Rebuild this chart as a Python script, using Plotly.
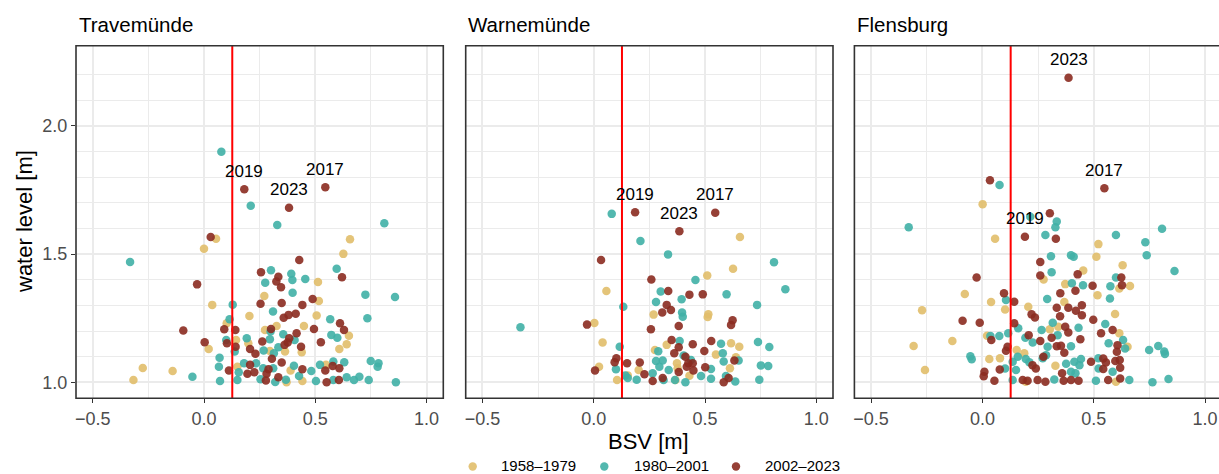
import plotly.graph_objects as go

# ---------------------------------------------------------------- data
STATIONS = ["Travemünde", "Warnemünde", "Flensburg"]
PERIODS = ["1958–1979", "1980–2001", "2002–2023"]
COLORS = ["#E1BE6A", "#40B0A6", "#8B2B20"]
BSV_THRESHOLD = 0.127

X_TICKS = [-0.5, 0.0, 0.5, 1.0]
X_TICK_TEXT = ["\u22120.5", "0.0", "0.5", "1.0"]
Y_TICKS = [1.0, 1.5, 2.0]
Y_TICK_TEXT = ["1.0", "1.5", "2.0"]

# Travemünde
TRAVE_1958_BSV = [0.054, 0.000, 0.656, 0.626, 0.037, 0.512, 0.271, 0.516, 0.204, 0.506,
                  0.102, 0.326, 0.449, 0.274, 0.651, 0.641, 0.608, 0.021, 0.144, 0.199,
                  0.364, 0.439, 0.296, -0.275, -0.141, -0.317, 0.371, 0.442, 0.389, 0.150,
                  0.548]
TRAVE_1958_WL = [1.560, 1.521, 1.558, 1.501, 1.302, 1.391, 1.337, 1.317, 1.259, 1.261,
                 1.230, 1.220, 1.220, 1.204, 1.182, 1.148, 1.130, 1.130, 1.165, 1.152,
                 1.120, 1.117, 1.122, 1.056, 1.044, 1.009, 1.000, 1.005, 1.046, 1.061,
                 1.068]
TRAVE_1980_BSV = [0.078, 0.210, 0.329, 0.810, -0.332, 0.596, 0.301, 0.392, 0.397, 0.455,
                  0.275, 0.398, 0.725, 0.858, 0.129, 0.310, 0.115, 0.567, 0.734, 0.299,
                  0.356, 0.572, 0.599, 0.100, 0.192, 0.296, 0.407, 0.334, 0.138, 0.268,
                  0.314, 0.070, 0.067, 0.180, 0.234, 0.266, 0.311, 0.404, 0.521, 0.581,
                  0.630, 0.749, 0.784, 0.780, -0.052, 0.072, 0.150, 0.254, 0.320, 0.427,
                  0.482, 0.503, 0.581, 0.641, 0.674, 0.698, 0.740, 0.862, 0.156, 0.368]
TRAVE_1980_WL = [1.899, 1.689, 1.614, 1.620, 1.469, 1.443, 1.437, 1.423, 1.399, 1.403,
                 1.388, 1.349, 1.342, 1.333, 1.303, 1.276, 1.246, 1.246, 1.250, 1.198,
                 1.187, 1.185, 1.174, 1.165, 1.172, 1.168, 1.165, 1.137, 1.120, 1.124,
                 1.113, 1.096, 1.061, 1.074, 1.074, 1.055, 1.055, 1.065, 1.068, 1.081,
                 1.078, 1.083, 1.074, 1.061, 1.022, 1.005, 1.009, 1.012, 1.001, 1.025,
                 1.044, 1.005, 1.009, 1.020, 1.009, 1.022, 1.009, 1.000, 1.039, 1.010]
TRAVE_2002_BSV = [0.030, 0.428, 0.256, 0.334, 0.325, 0.346, -0.031, 0.620, 0.488, 0.254,
                  0.349, 0.442, 0.358, 0.380, 0.412, -0.093, 0.091, 0.141, 0.301, 0.494,
                  0.611, 0.629, 0.416, 0.003, 0.103, 0.142, 0.207, 0.262, 0.383, 0.376,
                  0.362, 0.525, 0.436, 0.231, 0.305, 0.349, 0.112, 0.207, 0.195, 0.226,
                  0.290, 0.281, 0.278, 0.334, 0.442, 0.545, 0.578, 0.608, 0.551, 0.606]
TRAVE_2002_WL = [1.567, 1.477, 1.429, 1.412, 1.393, 1.371, 1.382, 1.410, 1.325, 1.306,
                 1.309, 1.302, 1.252, 1.263, 1.267, 1.202, 1.207, 1.204, 1.208, 1.208,
                 1.230, 1.204, 1.191, 1.156, 1.152, 1.139, 1.130, 1.159, 1.172, 1.155,
                 1.146, 1.156, 1.139, 1.111, 1.092, 1.077, 1.046, 1.068, 1.033, 1.039,
                 1.051, 1.033, 1.007, 1.020, 1.051, 1.046, 1.064, 1.055, 1.000, 1.009]
TRAVE_EVENT_YEAR = ["2019", "2023", "2017"]
TRAVE_EVENT_BSV = [0.181, 0.382, 0.545]
TRAVE_EVENT_WL = [1.753, 1.681, 1.761]

# Warnemünde
WARNE_1958_BSV = [0.657, 0.626, 0.510, 0.057, 0.003, 0.269, 0.515, 0.512, 0.040, 0.275,
                  0.328, 0.617, 0.654, 0.549, 0.639, 0.612, 0.024, 0.105, 0.202, 0.367,
                  0.374, 0.430, 0.153, 0.377]
WARNE_1958_WL = [1.567, 1.443, 1.417, 1.356, 1.231, 1.264, 1.265, 1.255, 1.155, 1.126,
                 1.146, 1.152, 1.139, 1.108, 1.098, 1.055, 1.061, 1.009, 1.048, 1.009,
                 1.074, 1.026, 1.027, 1.055]
WARNE_1980_BSV = [0.081, 0.210, 0.334, 0.810, 0.457, 0.861, 0.301, 0.395, 0.597, 0.280,
                  0.133, 0.734, 0.397, 0.400, -0.329, 0.117, 0.386, 0.290, 0.572, 0.738,
                  0.789, 0.580, 0.584, 0.651, 0.280, 0.310, 0.404, 0.295, 0.337, 0.751,
                  0.784, 0.100, 0.142, 0.153, 0.193, 0.365, 0.412, 0.482, 0.527, 0.527,
                  0.594, 0.636, 0.744, 0.314, 0.265, 0.437]
WARNE_1980_WL = [1.657, 1.551, 1.499, 1.468, 1.399, 1.363, 1.354, 1.324, 1.343, 1.313,
                 1.295, 1.302, 1.272, 1.256, 1.215, 1.139, 1.161, 1.121, 1.150, 1.157,
                 1.138, 1.113, 1.081, 1.085, 1.083, 1.085, 1.105, 1.061, 1.048, 1.066,
                 1.064, 1.051, 1.027, 1.017, 1.010, 1.009, 1.000, 1.025, 1.014, 1.052,
                 1.025, 1.003, 1.010, 1.009, 1.035, 1.087]
WARNE_2002_BSV = [0.033, 0.259, 0.335, 0.430, 0.490, 0.328, 0.347, 0.308, -0.030, 0.257,
                  0.382, 0.624, 0.617, 0.350, 0.382, 0.362, 0.445, 0.528, 0.497, 0.632,
                  0.102, 0.094, 0.150, 0.207, 0.412, 0.425, 0.445, 0.418, 0.448, 0.501,
                  0.382, 0.006, 0.228, 0.265, 0.310, 0.606, 0.584]
WARNE_2002_WL = [1.477, 1.401, 1.356, 1.342, 1.343, 1.302, 1.282, 1.272, 1.225, 1.207,
                 1.220, 1.242, 1.224, 1.165, 1.137, 1.113, 1.148, 1.161, 1.122, 1.085,
                 1.094, 1.078, 1.074, 1.077, 1.100, 1.074, 1.074, 1.061, 1.046, 1.059,
                 1.040, 1.046, 1.031, 1.005, 1.017, 1.017, 1.000]
WARNE_EVENT_YEAR = ["2019", "2023", "2017"]
WARNE_EVENT_BSV = [0.186, 0.385, 0.546]
WARNE_EVENT_WL = [1.663, 1.589, 1.661]

# Flensburg
FLENS_1958_BSV = [0.001, 0.057, 0.521, 0.512, 0.453, 0.630, 0.275, 0.372, 0.663, 0.615,
                  -0.079, 0.039, 0.517, 0.368, 0.102, -0.271, 0.206, 0.596, -0.135, -0.309,
                  -0.258, 0.021, 0.031, 0.079, 0.154, 0.188, 0.303, 0.341, 0.615, 0.652,
                  0.328, 0.195, 0.600]
FLENS_1958_WL = [1.695, 1.560, 1.539, 1.490, 1.436, 1.457, 1.401, 1.383, 1.376, 1.366,
                 1.344, 1.313, 1.340, 1.313, 1.284, 1.281, 1.295, 1.266, 1.161, 1.142,
                 1.048, 1.182, 1.091, 1.094, 1.126, 1.113, 1.207, 1.217, 1.191, 1.139,
                 1.065, 1.002, 1.002]
FLENS_1980_BSV = [0.077, 0.215, 0.334, 0.328, -0.331, 0.283, 0.600, 0.807, 0.732, 0.738,
                  0.308, 0.398, 0.410, 0.863, 0.311, 0.600, 0.402, 0.452, 0.575, 0.573,
                  0.291, 0.106, 0.552, 0.432, 0.316, 0.116, 0.076, 0.036, 0.161, 0.193,
                  0.226, 0.266, 0.293, 0.338, 0.398, 0.567, 0.632, 0.641, 0.749, 0.790,
                  0.817, 0.820, -0.054, -0.048, 0.159, 0.195, 0.211, 0.136, 0.102, 0.151,
                  0.271, 0.286, 0.413, 0.436, 0.443, 0.521, 0.522, 0.585, 0.376, 0.398,
                  0.418, 0.323, 0.510, 0.660, 0.764, 0.836, 0.136]
FLENS_1980_WL = [1.770, 1.646, 1.627, 1.605, 1.605, 1.575, 1.575, 1.599, 1.546, 1.496,
                 1.492, 1.496, 1.490, 1.434, 1.429, 1.409, 1.386, 1.379, 1.375, 1.327,
                 1.325, 1.321, 1.227, 1.213, 1.232, 1.191, 1.181, 1.181, 1.211, 1.174,
                 1.155, 1.204, 1.139, 1.184, 1.141, 1.152, 1.165, 1.132, 1.126, 1.142,
                 1.120, 1.110, 1.102, 1.090, 1.100, 1.091, 1.078, 1.080, 1.054, 1.048,
                 1.094, 1.106, 1.080, 1.067, 1.091, 1.094, 1.054, 1.041, 1.072, 1.041,
                 1.035, 1.011, 1.006, 1.009, 1.000, 1.013, 1.009]
FLENS_2002_BSV = [0.034, 0.303, 0.330, 0.260, 0.260, 0.428, -0.026, 0.495, 0.418, 0.350,
                  0.624, 0.627, 0.097, 0.143, 0.447, 0.420, 0.334, 0.386, 0.447, 0.349,
                  0.221, 0.236, -0.089, -0.012, 0.498, 0.143, 0.372, 0.386, 0.208, 0.260,
                  0.311, 0.440, 0.533, 0.585, 0.040, 0.113, 0.106, 0.334, 0.353, 0.368,
                  0.274, 0.607, 0.604, 0.488, 0.543, 0.555, 0.597, 0.617, 0.543, 0.619,
                  0.225, 0.240, 0.078, 0.009, 0.006, 0.054, 0.181, 0.203, 0.248, 0.283,
                  0.358, 0.365, 0.398, 0.432, 0.565, 0.619]
FLENS_2002_WL = [1.788, 1.659, 1.560, 1.469, 1.417, 1.421, 1.409, 1.377, 1.357, 1.347,
                 1.409, 1.379, 1.347, 1.314, 1.301, 1.279, 1.291, 1.291, 1.262, 1.258,
                 1.265, 1.253, 1.240, 1.232, 1.244, 1.230, 1.217, 1.194, 1.184, 1.161,
                 1.174, 1.168, 1.191, 1.204, 1.165, 1.139, 1.123, 1.141, 1.143, 1.115,
                 1.100, 1.145, 1.119, 1.080, 1.093, 1.077, 1.083, 1.087, 1.052, 1.057,
                 1.067, 1.054, 1.050, 1.041, 1.024, 1.006, 1.009, 1.006, 1.009, 1.002,
                 1.035, 1.006, 1.009, 1.006, 1.009, 1.015]
FLENS_EVENT_YEAR = ["2019", "2023", "2017"]
FLENS_EVENT_BSV = [0.191, 0.387, 0.548]
FLENS_EVENT_WL = [1.568, 2.188, 1.757]

PANELS = [
    ([TRAVE_1958_BSV, TRAVE_1980_BSV, TRAVE_2002_BSV + TRAVE_EVENT_BSV],
     [TRAVE_1958_WL, TRAVE_1980_WL, TRAVE_2002_WL + TRAVE_EVENT_WL],
     TRAVE_EVENT_YEAR, TRAVE_EVENT_BSV, TRAVE_EVENT_WL),
    ([WARNE_1958_BSV, WARNE_1980_BSV, WARNE_2002_BSV + WARNE_EVENT_BSV],
     [WARNE_1958_WL, WARNE_1980_WL, WARNE_2002_WL + WARNE_EVENT_WL],
     WARNE_EVENT_YEAR, WARNE_EVENT_BSV, WARNE_EVENT_WL),
    ([FLENS_1958_BSV, FLENS_1980_BSV, FLENS_2002_BSV + FLENS_EVENT_BSV],
     [FLENS_1958_WL, FLENS_1980_WL, FLENS_2002_WL + FLENS_EVENT_WL],
     FLENS_EVENT_YEAR, FLENS_EVENT_BSV, FLENS_EVENT_WL),
]

# ---------------------------------------------------------------- layout geometry (px)
W, H = 1219, 474
PANEL_LEFT = [76.0, 465.7, 854.4]
PANEL_W = 367.3
PANEL_TOP, PANEL_BOTTOM = 45.7, 398.3
X_RANGE = [-0.575, 1.075]
Y_RANGE = [0.9376, 2.313]
FONT = "Liberation Sans, Arial, Helvetica, sans-serif"
GRID = "#EBEBEB"
TEXT_GREY = "#4D4D4D"

fig = go.Figure()

for p, (xs, ys, years, ev_x, ev_y) in enumerate(PANELS):
    suffix = "" if p == 0 else str(p + 1)
    for k in range(3):
        fig.add_trace(go.Scatter(
            x=xs[k], y=ys[k], mode="markers", name=PERIODS[k],
            xaxis="x" + suffix, yaxis="y" + suffix, showlegend=False,
            marker=dict(color=COLORS[k], size=8.5, opacity=0.9, line=dict(width=0)),
            cliponaxis=False,
        ))
    for yr, ex, ey in zip(years, ev_x, ev_y):
        fig.add_annotation(x=ex, y=ey, xref="x" + suffix, yref="y" + suffix,
                           text=yr, showarrow=False, yshift=18,
                           font=dict(family=FONT, size=17, color="black"))

layout = dict(
    width=W, height=H, margin=dict(l=0, r=0, t=0, b=0),
    paper_bgcolor="white", plot_bgcolor="white", showlegend=False,
    font=dict(family=FONT),
)

y_dom = [1 - PANEL_BOTTOM / H, 1 - PANEL_TOP / H]
minor_y = [round(1.0 + 0.1 * i, 1) for i in range(1, 13) if i not in (5, 10)]

for p in range(3):
    suffix = "" if p == 0 else str(p + 1)
    left = PANEL_LEFT[p]
    right = min(left + PANEL_W, W)
    xr = [X_RANGE[0], X_RANGE[0] + (right - left) / PANEL_W * (X_RANGE[1] - X_RANGE[0])]
    layout["xaxis" + suffix] = dict(
        domain=[left / W, right / W], range=xr, anchor="y" + suffix,
        tickvals=X_TICKS, ticktext=X_TICK_TEXT,
        ticks="outside", ticklen=4, tickwidth=1.2, tickcolor="#333333",
        tickfont=dict(family=FONT, size=18, color=TEXT_GREY),
        showgrid=True, gridcolor=GRID, gridwidth=1.6,
        minor=dict(tickvals=[-0.25, 0.25, 0.75], showgrid=True, gridcolor=GRID,
                   gridwidth=0.9, ticks=""),
        zeroline=False, showline=False, fixedrange=True,
    )
    layout["yaxis" + suffix] = dict(
        domain=y_dom, range=Y_RANGE, anchor="x" + suffix,
        tickvals=Y_TICKS, ticktext=Y_TICK_TEXT,
        ticks="outside" if p == 0 else "", ticklen=4, tickwidth=1.2, tickcolor="#333333",
        showticklabels=(p == 0),
        tickfont=dict(family=FONT, size=18, color=TEXT_GREY),
        showgrid=True, gridcolor=GRID, gridwidth=1.6,
        minor=dict(tickvals=minor_y, showgrid=True, gridcolor=GRID, gridwidth=0.9, ticks=""),
        zeroline=False, showline=False, fixedrange=True,
    )

fig.update_layout(**layout)

shapes = []
annotations = list(fig.layout.annotations)
for p in range(3):
    suffix = "" if p == 0 else str(p + 1)
    # threshold line
    shapes.append(dict(type="line", xref="x" + suffix, yref="y" + suffix + " domain",
                       x0=BSV_THRESHOLD, x1=BSV_THRESHOLD, y0=0, y1=1,
                       line=dict(color="#FF0000", width=2), layer="above"))
    # panel frame
    shapes.append(dict(type="rect", xref="x" + suffix + " domain", yref="y" + suffix + " domain",
                       x0=0, x1=1.0 if p < 2 else 1.02, y0=0, y1=1,
                       line=dict(color="#333333", width=1.6), layer="above"))
    # facet title
    annotations.append(dict(text=STATIONS[p], xref="paper", yref="paper",
                            x=(PANEL_LEFT[p] + 0.7) / W, y=1 - 24 / H,
                            xanchor="left", yanchor="middle", showarrow=False,
                            font=dict(family=FONT, size=20.5, color="black")))

annotations.append(dict(text="water level [m]", xref="paper", yref="paper",
                        x=24 / W, y=1 - 222 / H, textangle=-90,
                        xanchor="center", yanchor="middle", showarrow=False,
                        font=dict(family=FONT, size=22, color="black")))
annotations.append(dict(text="BSV [m]", xref="paper", yref="paper",
                        x=648.3 / W, y=1 - 441.5 / H,
                        xanchor="center", yanchor="middle", showarrow=False,
                        font=dict(family=FONT, size=22, color="black")))

# legend row
LEG_DOT_X = [472.7, 604.3, 736.0]
LEG_TEXT_X = [500.0, 632.7, 764.3]
LEG_Y = 466.5
for k in range(3):
    shapes.append(dict(type="circle", xref="paper", yref="paper",
                       x0=(LEG_DOT_X[k] - 4.2) / W, x1=(LEG_DOT_X[k] + 4.2) / W,
                       y0=1 - (LEG_Y + 4.2) / H, y1=1 - (LEG_Y - 4.2) / H,
                       fillcolor=COLORS[k], opacity=0.9, line=dict(width=0)))
    annotations.append(dict(text=PERIODS[k], xref="paper", yref="paper",
                            x=LEG_TEXT_X[k] / W, y=1 - (LEG_Y - 1.0) / H,
                            xanchor="left", yanchor="middle", showarrow=False,
                            borderpad=0,
                            font=dict(family=FONT, size=15, color="black")))

fig.update_layout(shapes=shapes, annotations=annotations)
fig.write_html("out.html")
